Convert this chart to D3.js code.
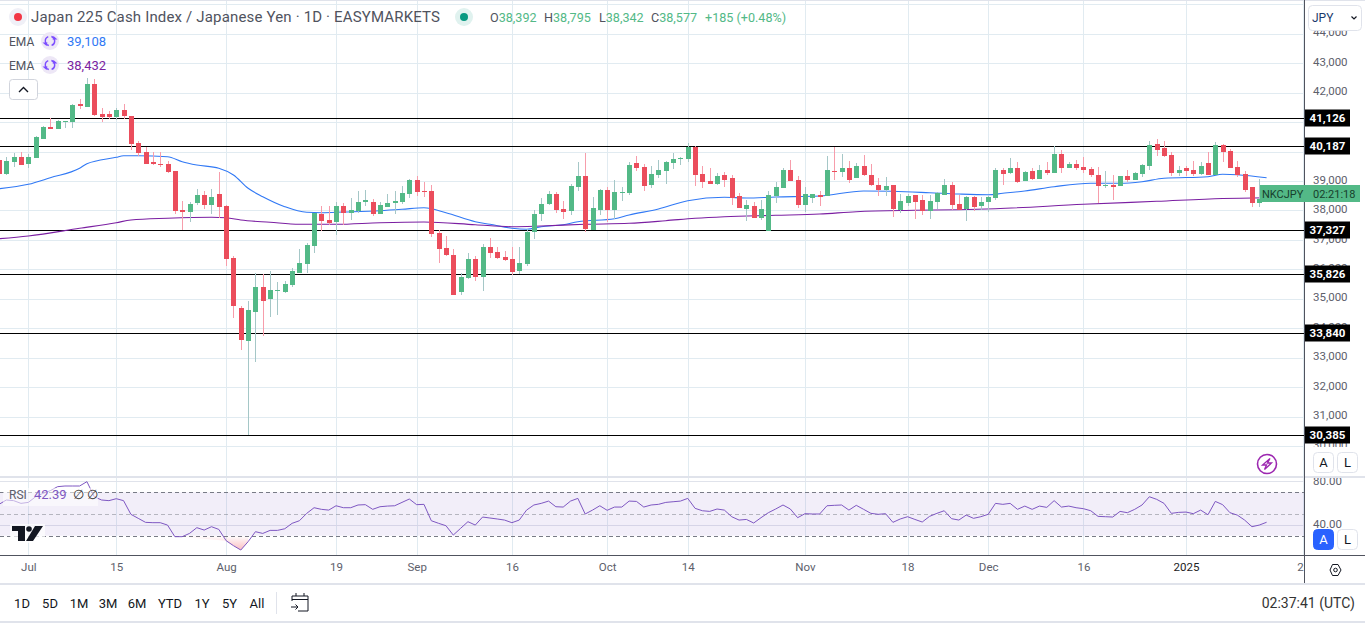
<!DOCTYPE html>
<html>
<head>
<meta charset="utf-8">
<script src="https://cdn.jsdelivr.net/npm/d3@7"></script>
<style>
  html, body { margin: 0; padding: 0; background: #fff; overflow: hidden; }
  svg { display: block; }
  text { font-family: Roboto, sans-serif; }
</style>
</head>
<body>
<script>
// DATA. Bars are daily, index 0 is the half hidden bar on the left edge
const opens = [
  39711,39236,39643,39813,39575,39779,40424,40832,40764,41001,
  41001,41613,41511,42292,41273,41273,41171,41409,41205,40288,
  39983,39643,39575,39575,39338,38013,37945,38251,38522,38183,
  38556,38149,36383,34686,33565,34550,35399,34992,35263,35229,
  35467,35874,36179,36791,37877,37673,37605,38149,37911,37979,
  38285,38285,37877,38115,38251,38285,38556,39032,38658,38658,
  37232,36723,36485,35229,35704,36349,35738,36757,36587,36417,
  36349,35942,36179,37266,37877,38217,38556,38047,37979,38794,
  39168,37334,38013,38692,38013,38590,38590,39609,39473,38862,
  39202,39338,39609,39745,39745,40153,39236,38998,38896,39202,
  39100,38488,38047,38149,37741,37300,38488,38760,39372,39032,
  38183,38421,38522,38488,39338,39304,39439,39100,39507,39202,
  38862,38692,38862,38013,38251,38522,38353,37979,38285,38522,
  38862,38217,38047,38454,38149,38285,38421,39372,39270,39439,
  38998,39338,39066,39372,39270,39915,39439,39575,39473,39405,
  39202,38828,38862,38828,39168,39032,39236,39507,40254,40119,
  39881,39270,39439,39372,39236,39609,39202,40220,40017,39473,
  39236,38794,38251,38392];
const closes = [
  39236,39677,39813,39541,39813,40492,40832,40764,41035,41035,
  41579,41545,42292,41239,41171,41171,41409,41205,40254,39949,
  39575,39575,39541,39304,37979,37945,38217,38522,38183,38454,
  38115,36349,34754,33599,34618,35399,34924,35297,35297,35501,
  35942,36213,36825,37911,37639,37571,38149,37911,38013,38285,
  38353,37877,38183,38251,38319,38590,39032,38624,38624,37198,
  36689,36485,35127,35738,36349,35738,36757,36553,36383,36315,
  35908,36213,37266,37877,38217,38556,38013,37945,38828,39168,
  37368,38081,38692,38013,38624,38624,39541,39439,38828,39236,
  39372,39643,39745,39779,40153,39202,38964,38896,39168,39032,
  38421,38081,38183,37741,38047,38522,38794,39372,38998,38183,
  38556,38556,38454,39372,39304,39439,39032,39507,39202,38862,
  38692,38828,38047,38319,38488,38285,37979,38319,38590,38862,
  38183,38013,38454,38115,38285,38454,39372,39236,39439,38964,
  39304,39066,39372,39270,39915,39439,39575,39439,39372,39202,
  38828,38862,38794,39168,39032,39270,39541,40220,40051,39847,
  39270,39372,39338,39236,39507,39202,40220,39983,39439,39202,
  38692,38251,38392,38577];
const highs = [
  39813,39813,39949,39983,39930,40526,40866,41154,41069,41035,
  41613,41783,42496,42462,41477,41375,41477,41613,41205,40356,
  40153,39983,39983,39677,39338,38319,38285,38726,38658,38726,
  39304,38183,36451,34754,34924,35874,35840,35942,35569,35603,
  36044,36689,36893,37911,38149,38149,38285,38251,38421,38658,
  38692,38387,38285,38556,38658,38828,39066,39168,38964,38862,
  37334,37130,36689,35874,36553,36451,36859,37062,36757,36621,
  36757,36757,37368,38013,38421,38658,38624,38319,38896,39643,
  39949,38454,38726,38794,39032,38794,39643,39847,39575,39507,
  39711,39677,39949,39813,40288,40187,39507,39439,39270,39304,
  39202,38590,38353,38285,38353,38658,38964,39439,39711,39168,
  38794,38556,38658,39847,40153,39915,39677,39609,39881,39575,
  39100,39134,38862,38556,38556,38522,38522,38522,38624,39066,
  38964,38522,38488,38488,38454,38488,39439,39439,39779,39643,
  39338,39439,39541,39643,40187,40051,39643,39711,39813,39473,
  39473,39338,39202,39168,39372,39304,39575,40356,40424,40356,
  39983,39507,39507,39677,39643,39983,40322,40254,40085,39677,
  39338,38794,39066,38795];
const lows = [
  39202,39202,39473,39541,39450,39779,40424,40764,40764,40798,
  40798,41443,41511,41205,41001,41103,41069,41103,40051,39847,
  39575,39541,39473,39270,37877,37334,37605,38183,38047,37877,
  37741,36111,34347,33260,30385,32852,33735,34381,34448,35195,
  35399,35874,35874,36553,37300,37504,37164,37504,37673,37911,
  38149,37809,37877,38115,37877,38217,38421,38488,38454,37096,
  36213,36451,35127,35127,35670,35603,35263,36383,36349,36281,
  35806,35840,36111,37028,37639,38183,37911,37707,37843,38658,
  37266,37334,37843,37605,37707,38319,38522,39338,38658,38760,
  39100,38896,39405,39541,39643,38828,38760,38896,38862,38794,
  38183,38081,37639,37741,37673,37300,38251,38760,38998,38081,
  37945,38251,38149,38488,39032,39134,38930,39100,39168,38828,
  38488,38488,37775,37911,38149,37707,37843,37707,38047,38522,
  38013,38013,37639,37979,38013,37945,38353,38862,39236,38930,
  38998,39032,39066,39202,39270,39270,39439,39372,39270,39134,
  38251,38760,38353,38828,38964,39032,39134,39372,39847,39813,
  39168,39168,39168,39168,39202,39202,39202,39643,39439,39134,
  38624,38115,38115,38342];

// EMA lines, read every few bars
const emaBlueBars = [0,4,7,11,12,16,17,19,23,25,27,30,32,34,36,39,42,44,47,52,55,58,61,65,67,70,72,74,77,79,84,86,90,94,99,102,106,112,118,122,127,131,135,137,140,144,149,153,156,159,165,167,169,173];
const emaBlue = [38737,38886,39110,39430,39585,39803,39857,39857,39823,39654,39542,39430,39202,38750,38465,38126,37935,37922,37945,37990,38037,38092,37922,37616,37528,37392,37358,37447,37514,37616,37718,37844,38048,38330,38445,38421,38455,38489,38659,38648,38601,38557,38533,38581,38659,38805,38920,38920,38975,39090,39144,39226,39212,39108];
const emaPurpleBars = [0,4,11,16,18,23,29,31,33,37,41,46,52,58,65,70,74,80,86,91,95,99,106,112,117,125,131,136,148,158,167,173];
const emaPurple = [37039,37131,37392,37582,37674,37732,37766,37749,37674,37596,37528,37528,37582,37606,37514,37446,37470,37528,37562,37650,37732,37786,37834,37878,37956,38003,38024,38058,38207,38309,38405,38432];

const rsiValues = [
  58.9,62.9,62.3,59.8,60.7,65.9,69,71.5,75.2,75.8,
  75.8,75.8,79.8,65.9,62.9,62.3,64.1,62.3,49.7,46,
  42.3,42,42,39.8,29.1,29.1,32.1,37.4,35.2,38.3,
  35.8,25.4,20.8,16.8,24.5,33.7,32.1,34.9,34.9,36.4,
  41.4,43.8,50.6,55.8,54.3,53.6,57.6,55.8,55.8,58.3,
  58.6,54.3,56.7,57.3,57.6,60.7,63.8,58.6,58.9,43.8,
  41.4,39.2,30.6,36.8,42.9,39.8,47.2,46.3,45.4,44.4,
  42,44.4,53.6,58.3,59.8,61.9,56.7,56.4,61.9,64.4,
  50,53.6,57.6,53.4,56.4,56.4,61.9,61.6,56.4,58.3,
  58.9,60.7,61.3,61.9,64.4,55.2,53,52.4,54.6,53.6,
  47.5,44.4,45,41.7,46.6,51.2,54.6,58.3,54.6,46.6,
  50.3,50,50,57.6,58,58.3,53.6,58,54.3,50.6,
  49.7,50.3,42.3,45.4,47.5,45,42.6,47.8,50.6,53,
  45.7,44.4,49,46,47.5,49.7,59.8,58.9,59.8,54.3,
  57.3,54.3,57.3,56.1,62.3,56.4,57.3,55.8,54.9,53,
  47.8,47.5,47.2,52.4,51.2,54.3,58.3,65.9,63.5,59.8,
  50.6,51.5,51.8,50.3,53.6,49.3,61.6,58.6,51.2,49,
  44.4,38.3,39.8,42.39];

const levels = [41126, 40187, 37327, 35826, 33840, 30385];
const priceGrid = [45000,44000,43000,42000,41000,40000,39000,38000,37000,36000,35000,34000,33000,32000,31000,30000];
const priceTicks = [44000,43000,42000,39000,38000,37000,36000,35000,34000,33000,32000,31000,30000];
const rsiTicks = [80, 40];
const rsiBands = [70, 50, 30];
const timeTickBars = [4,16,31,46,57,70,83,94,110,124,135,148,162,178];
const timeTickLabels = ["Jul","15","Aug","19","Sep","16","Oct","14","Nov","18","Dec","16","2025","20"];
const rangeLabels = ["1D","5D","1M","3M","6M","YTD","1Y","5Y","All"];
const rangeCentres = [22,50,79,108,137,170,202,229.5,257];

// COLOURS
const up = "#53b987", down = "#eb4d5c", upWick = "#a5c7c7", downWick = "#f79dab";
const gridColor = "#e1ebf1", axisColor = "#50535e", labelColor = "#5d606b", panelLine = "#e0e3eb";

const largeur = 1365, hauteur = 623;
const paneRight = 1305;

const svg = d3.select("body").append("svg")
  .attr("width", largeur)
  .attr("height", hauteur);

const defs = svg.append("defs");
defs.append("clipPath").attr("id", "pricePane").append("rect").attr("width", paneRight).attr("height", 477);
defs.append("clipPath").attr("id", "rsiPane").append("rect").attr("y", 478).attr("width", paneRight).attr("height", 77);
defs.append("clipPath").attr("id", "rsiAxisClip").append("rect").attr("x", paneRight).attr("y", 478).attr("width", 60).attr("height", 77);
defs.append("clipPath").attr("id", "timeClip").append("rect").attr("y", 556).attr("width", paneRight).attr("height", 27);

// SCALES
const x = d3.scaleLinear().domain([0, 173]).range([-1, 1266.6]);
const y = d3.scaleLinear().domain([30000, 40000]).range([446, 151.5]);
const yRsi = d3.scaleLinear().domain([30, 70]).range([535.7, 492.3]);
const crisp = v => Math.round(v) + 0.5;

const bars = opens.map((o, i) => ({ i, o, h: highs[i], l: lows[i], c: closes[i] }));

// PRICE PANE
const price = svg.append("g").attr("clip-path", "url(#pricePane)");

function verticalGrid(g, y1, y2) {
  g.append("g").selectAll("line").data(timeTickBars).join("line")
    .attr("x1", d => crisp(x(d))).attr("x2", d => crisp(x(d)))
    .attr("y1", y1).attr("y2", y2)
    .attr("stroke", gridColor);
}
verticalGrid(price, 0, 477);

price.append("g").selectAll("line").data(priceGrid).join("line")
  .attr("x1", 0).attr("x2", paneRight)
  .attr("y1", d => crisp(y(d))).attr("y2", d => crisp(y(d)))
  .attr("stroke", gridColor);

price.append("g").selectAll("line").data(levels).join("line")
  .attr("x1", 0).attr("x2", paneRight)
  .attr("y1", d => crisp(y(d))).attr("y2", d => crisp(y(d)))
  .attr("stroke", "#000");

const emaLine = d3.line().curve(d3.curveMonotoneX).x(d => x(d[0])).y(d => y(d[1]));
price.append("path")
  .attr("d", emaLine(d3.zip(emaBlueBars, emaBlue)))
  .attr("fill", "none").attr("stroke", "#3179f5").attr("stroke-width", 1.1);
price.append("path")
  .attr("d", emaLine(d3.zip(emaPurpleBars, emaPurple)))
  .attr("fill", "none").attr("stroke", "#7b1fa2").attr("stroke-width", 1.1);

// candles
const candles = price.append("g").selectAll("g").data(bars).join("g");
candles.append("rect")
  .attr("x", d => Math.round(x(d.i)))
  .attr("width", 1)
  .attr("y", d => Math.round(y(d.h)))
  .attr("height", d => Math.max(1, Math.round(y(d.l)) - Math.round(y(d.h))))
  .attr("fill", d => d.c >= d.o ? upWick : downWick);
candles.append("rect")
  .attr("x", d => Math.round(x(d.i)) - 2)
  .attr("width", 5)
  .attr("y", d => Math.round(y(Math.max(d.o, d.c))))
  .attr("height", d => Math.max(1, Math.round(y(Math.min(d.o, d.c))) - Math.round(y(Math.max(d.o, d.c)))))
  .attr("fill", d => d.c >= d.o ? up : down);

// RSI PANE
const rsiPane = svg.append("g").attr("clip-path", "url(#rsiPane)");
verticalGrid(rsiPane, 478, 555);

rsiPane.append("g").selectAll("line").data(rsiTicks).join("line")
  .attr("x1", 0).attr("x2", paneRight)
  .attr("y1", d => crisp(yRsi(d))).attr("y2", d => crisp(yRsi(d)))
  .attr("stroke", panelLine);

rsiPane.append("rect")
  .attr("x", 0).attr("width", paneRight)
  .attr("y", yRsi(70)).attr("height", yRsi(30) - yRsi(70))
  .attr("fill", "#7e57c2").attr("fill-opacity", 0.1);

rsiPane.append("g").selectAll("line").data(rsiBands).join("line")
  .attr("x1", 0).attr("x2", paneRight)
  .attr("y1", d => crisp(yRsi(d))).attr("y2", d => crisp(yRsi(d)))
  .attr("stroke", "#787b86")
  .attr("stroke-opacity", d => d === 50 ? 0.5 : 1)
  .attr("stroke-dasharray", "4 3");

// pink fill under 30
const grad = defs.append("linearGradient").attr("id", "oversoldFill")
  .attr("gradientUnits", "userSpaceOnUse")
  .attr("x1", 0).attr("x2", 0).attr("y1", yRsi(30)).attr("y2", yRsi(16));
grad.append("stop").attr("offset", 0).attr("stop-color", "#f23645").attr("stop-opacity", 0);
grad.append("stop").attr("offset", 1).attr("stop-color", "#f23645").attr("stop-opacity", 0.35);

const rsiBars = rsiValues.map((v, i) => [i, v]);
rsiPane.append("path")
  .datum(rsiBars.filter(d => d[1] < 30.5))
  .attr("d", d3.area().x(d => x(d[0])).y0(yRsi(30)).y1(d => yRsi(Math.min(d[1], 30))))
  .attr("fill", "url(#oversoldFill)");

rsiPane.append("path")
  .datum(rsiBars)
  .attr("d", d3.line().x(d => x(d[0])).y(d => yRsi(d[1])))
  .attr("fill", "none")
  .attr("stroke", "#7e57c2")
  .attr("stroke-width", 1);

// RSI legend sits on a pale plate over the line
svg.append("rect").attr("x", 3).attr("y", 488).attr("width", 95).attr("height", 18).attr("fill", "#fff").attr("fill-opacity", 0.55);
svg.append("text").attr("x", 9).attr("y", 499).attr("font-size", 12).attr("fill", labelColor).text("RSI");
svg.append("text").attr("x", 34).attr("y", 499).attr("font-size", 13).attr("fill", "#7e57c2").text("42.39");
svg.append("text").attr("x", 73).attr("y", 499).attr("font-size", 13).attr("fill", "#333").text("∅");
svg.append("text").attr("x", 87).attr("y", 499).attr("font-size", 13).attr("fill", "#333").text("∅");

// tradingview mark
svg.append("rect").attr("x", 10).attr("y", 524).attr("width", 35).attr("height", 19).attr("fill", "#fff").attr("fill-opacity", 0.7);
svg.append("path").attr("d", "M12 526H25V541H18V531H12Z M35 526H43L33 541H26Z").attr("fill", "#131722");
svg.append("circle").attr("cx", 29).attr("cy", 529).attr("r", 2.8).attr("fill", "#131722");

// PRICE AXIS
const priceAxis = svg.append("g")
  .attr("transform", `translate(${paneRight + 8},-1.5)`)
  .call(d3.axisRight(y).tickValues(priceTicks).tickSize(0).tickPadding(0).tickFormat(d3.format(",")));
priceAxis.select(".domain").remove();
priceAxis.selectAll("text").attr("font-size", 11.5).attr("fill", labelColor).style("font-family", "Roboto, sans-serif");

const levelLabels = svg.append("g").selectAll("g").data(levels).join("g")
  .attr("transform", d => `translate(${paneRight},${Math.round(y(d))})`);
levelLabels.append("rect").attr("y", -8.5).attr("width", 45).attr("height", 17).attr("fill", "#000");
levelLabels.append("text")
  .attr("x", 22.5).attr("y", 4).attr("text-anchor", "middle")
  .attr("font-size", 11.5).attr("font-weight", 700).attr("fill", "#fff")
  .text(d3.format(","));

// RSI AXIS
const rsiAxis = svg.append("g")
  .attr("clip-path", "url(#rsiAxisClip)")
  .append("g")
  .attr("transform", `translate(${paneRight + 8},-1)`)
  .call(d3.axisRight(yRsi).tickValues(rsiTicks).tickSize(0).tickPadding(0).tickFormat(d3.format(".2f")));
rsiAxis.select(".domain").remove();
rsiAxis.selectAll("text").attr("font-size", 11.5).attr("fill", labelColor).style("font-family", "Roboto, sans-serif");

// TIME AXIS
const timeAxis = svg.append("g")
  .attr("clip-path", "url(#timeClip)")
  .append("g")
  .attr("transform", "translate(0,560)")
  .call(d3.axisBottom(x).tickValues(timeTickBars).tickSize(0).tickPadding(3)
    .tickFormat((d, i) => timeTickLabels[i]));
timeAxis.select(".domain").remove();
timeAxis.selectAll("text").attr("font-size", 11.5)
  .attr("fill", d => d === 162 ? "#222" : labelColor)
  .style("font-family", "Roboto, sans-serif");

// FRAME
svg.append("rect").attr("x", 1306).attr("y", 447).attr("width", 59).attr("height", 29).attr("fill", "#fff");
svg.append("rect").attr("x", 0).attr("y", 476).attr("width", largeur).attr("height", 2).attr("fill", panelLine);
svg.append("rect").attr("x", 0).attr("y", 0).attr("width", largeur).attr("height", 1).attr("fill", panelLine);
svg.append("rect").attr("x", 0).attr("y", 555).attr("width", largeur).attr("height", 1).attr("fill", axisColor);
svg.append("rect").attr("x", paneRight - 1).attr("y", 0).attr("width", 1).attr("height", 583).attr("fill", axisColor);
svg.append("rect").attr("x", 0).attr("y", 583).attr("width", largeur).attr("height", 2).attr("fill", panelLine);
svg.append("rect").attr("x", 0).attr("y", 621).attr("width", largeur).attr("height", 2).attr("fill", panelLine);

// LAST PRICE TAG
svg.append("rect").attr("x", 1260).attr("y", 185).attr("width", 100).attr("height", 17).attr("fill", up);
svg.append("text").attr("x", 1262).attr("y", 198).attr("font-size", 11).attr("fill", "#17402c").text("NKCJPY");
svg.append("text").attr("x", 1313).attr("y", 198).attr("font-size", 11).attr("fill", "#17402c").text("02:21:18");

// HEADER
svg.append("circle").attr("cx", 18).attr("cy", 17).attr("r", 9).attr("fill", "#f0f0f7");
svg.append("circle").attr("cx", 18).attr("cy", 17).attr("r", 4).attr("fill", "#f23645");
svg.append("text").attr("x", 31).attr("y", 22).attr("font-size", 15).attr("fill", "#50535e")
  .attr("textLength", 409)
  .text("Japan 225 Cash Index / Japanese Yen · 1D · EASYMARKETS");
svg.append("circle").attr("cx", 464).attr("cy", 17).attr("r", 9).attr("fill", "#e0f2ef");
svg.append("circle").attr("cx", 464).attr("cy", 17).attr("r", 4).attr("fill", "#089981");

const ohlc = [["O",490,"38,392"],["H",544,"38,795"],["L",599,"38,342"],["C",651,"38,577"]];
const ohlcText = svg.append("g").selectAll("text").data(ohlc).join("text")
  .attr("x", d => d[1]).attr("y", 22).attr("font-size", 12.6).attr("fill", up);
ohlcText.append("tspan").attr("fill", "#50535e").text(d => d[0]);
ohlcText.append("tspan").text(d => d[2]);
svg.append("text").attr("x", 705).attr("y", 22).attr("font-size", 12.6).attr("fill", up).text("+185 (+0.48%)");

// EMA legend rows
const emaRows = [[41, "#3179f5", "39,108"], [65, "#7b1fa2", "38,432"]];
const arrow = d3.arc().innerRadius(4).outerRadius(5.4);
const emaRow = svg.append("g").selectAll("g").data(emaRows).join("g")
  .attr("transform", d => `translate(0,${d[0]})`);
emaRow.append("text").attr("x", 9).attr("y", 5).attr("font-size", 12).attr("fill", "#50535e").text("EMA");
emaRow.append("circle").attr("cx", 50).attr("r", 9).attr("fill", "#ede7f6");
emaRow.append("path").attr("transform", "translate(50,0)")
  .attr("d", arrow({ startAngle: 0.3, endAngle: 2.8 }) + arrow({ startAngle: 3.4, endAngle: 5.9 }))
  .attr("fill", "#7c4dff");
emaRow.append("path").attr("transform", "translate(50,0)").attr("d", "M3.5 -5L7.5 -1.5H2.5Z M-3.5 5L-7.5 1.5H-2.5Z").attr("fill", "#7c4dff");
emaRow.append("text").attr("x", 67).attr("y", 5).attr("font-size", 13).attr("fill", d => d[1]).text(d => d[2]);

svg.append("rect").attr("x", 9.5).attr("y", 79.5).attr("width", 28).attr("height", 20).attr("rx", 3)
  .attr("fill", "#fff").attr("stroke", "#d1d4dc");
svg.append("path").attr("d", "M19 92L23.5 87.5L28 92").attr("fill", "none").attr("stroke", "#131722").attr("stroke-width", 1.4);

// BUTTONS ON THE AXIS
svg.append("rect").attr("x", 1308.5).attr("y", 5.5).attr("width", 53).attr("height", 25).attr("rx", 4)
  .attr("fill", "#fff").attr("stroke", "#e0e3eb");
svg.append("text").attr("x", 1312).attr("y", 22).attr("font-size", 12).attr("fill", "#1b3a6b").text("JPY");
svg.append("path").attr("d", "M1351.5 16.5L1354 19L1356.5 16.5").attr("fill", "none").attr("stroke", "#131722").attr("stroke-width", 1.2);

const axisButtons = [[1313, 452, "A", false], [1337, 452, "L", false], [1313, 529, "A", true], [1337, 529, "L", false]];
const axisButton = svg.append("g").selectAll("g").data(axisButtons).join("g")
  .attr("transform", d => `translate(${d[0]},${d[1]})`);
axisButton.append("rect").attr("x", 0.5).attr("y", 0.5).attr("width", 20).attr("height", 20).attr("rx", 4)
  .attr("fill", d => d[3] ? "#2962ff" : "#fff").attr("stroke", d => d[3] ? "#2962ff" : "#e0e3eb");
axisButton.append("text").attr("x", 10.5).attr("y", 15).attr("text-anchor", "middle").attr("font-size", 13)
  .attr("fill", d => d[3] ? "#fff" : "#131722").text(d => d[2]);

// bolt
svg.append("circle").attr("cx", 1267).attr("cy", 464).attr("r", 9.5).attr("fill", "#fff").attr("stroke", "#9c27b0").attr("stroke-width", 1.6);
svg.append("path").attr("d", "M1270 458.5L1262.5 465H1266.5L1264.5 469.5L1271.5 463H1267.5Z").attr("fill", "none").attr("stroke", "#9c27b0").attr("stroke-width", 1.3);

// settings hexagon
svg.append("path").attr("d", "M1330 570L1332.5 564.5H1338L1341 570L1338 575.5H1332.5Z").attr("fill", "none").attr("stroke", "#131722");
svg.append("circle").attr("cx", 1335.5).attr("cy", 570).attr("r", 1.8).attr("fill", "none").attr("stroke", "#131722");

// BOTTOM TOOLBAR
svg.append("g").selectAll("text").data(rangeLabels).join("text")
  .attr("x", (d, i) => rangeCentres[i]).attr("y", 608)
  .attr("text-anchor", "middle").attr("font-size", 13).attr("fill", "#131722")
  .text(d => d);
svg.append("rect").attr("x", 276).attr("y", 592).attr("width", 1).attr("height", 22).attr("fill", panelLine);
svg.append("path")
  .attr("d", "M292 601V596H308V611H298 M292 599.5H308 M296 593V596 M304 593V596 M291 607H298 M295.5 604.5L298 607L295.5 609.5")
  .attr("fill", "none").attr("stroke", "#131722");
svg.append("text").attr("x", 1355).attr("y", 608).attr("text-anchor", "end").attr("font-size", 14).attr("fill", "#333")
  .text("02:37:41 (UTC)");
</script>
</body>
</html>
